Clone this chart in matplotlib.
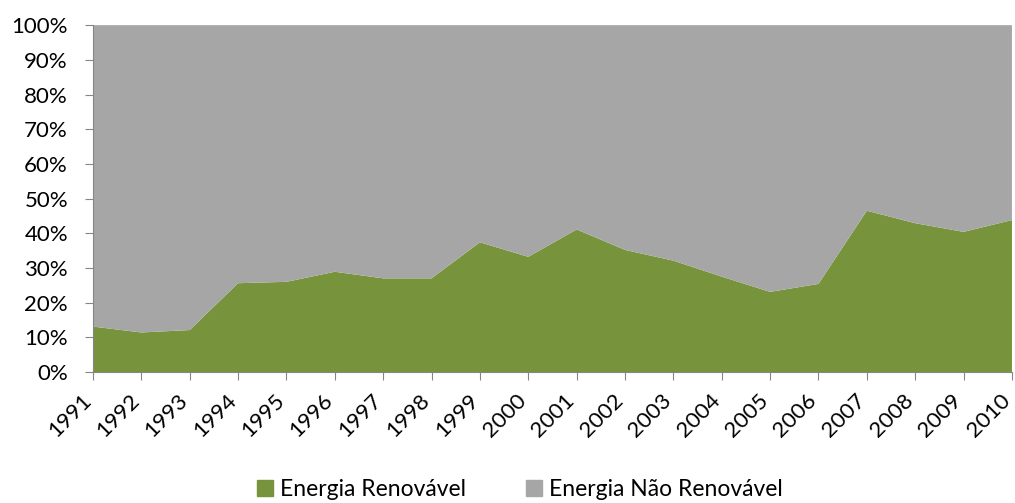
import numpy as np
import matplotlib
matplotlib.use("Agg")
import matplotlib.pyplot as plt
import matplotlib.transforms as mtransforms
from matplotlib.patches import Patch
from matplotlib.ticker import PercentFormatter

plt.rcParams["font.family"] = ["Lato", "DejaVu Sans"]

years = list(range(1991, 2011))
renovavel = [13.1, 11.4, 12.1, 25.6, 26.0, 28.9, 27.0, 27.0, 37.4, 33.2,
             41.1, 35.2, 32.1, 27.5, 23.1, 25.4, 46.5, 42.9, 40.4, 43.8]
nao_renovavel = [100 - v for v in renovavel]

green = "#77933C"
gray = "#A6A6A6"
axis_color = "#868686"

fig = plt.figure(figsize=(10.15, 5.03), dpi=100)
ax = fig.add_axes([0.0916, 0.2604, 0.9054, 0.6896])

ax.stackplot(years, renovavel, nao_renovavel, colors=[green, gray], linewidth=0)

ax.set_xlim(years[0], years[-1])
ax.set_ylim(0, 100)
ax.set_yticks(np.arange(0, 101, 10))
ax.yaxis.set_major_formatter(PercentFormatter(decimals=0))
ax.set_xticks(years)
ax.set_xticklabels([str(y) for y in years], rotation=45, ha="right",
                   va="center", rotation_mode="anchor")

for s in ["top", "right"]:
    ax.spines[s].set_visible(False)
for s in ["left", "bottom"]:
    ax.spines[s].set_color(axis_color)
ax.tick_params(axis="both", colors=axis_color, labelcolor="black",
               labelsize=16, length=6)
ax.tick_params(axis="y", pad=12)
ax.tick_params(axis="x", pad=12)

# nudge x labels so their ends sit under the ticks
shift = mtransforms.ScaledTranslation(-5 / 100, 0, fig.dpi_scale_trans)
for lbl in ax.get_xticklabels():
    lbl.set_transform(lbl.get_transform() + shift)

handles = [Patch(color=green, label="Energia Renovável"),
           Patch(color=gray, label="Energia Não Renovável")]
fig.legend(handles=handles, loc="lower center", bbox_to_anchor=(0.512, -0.035),
           ncol=2, frameon=False, fontsize=16.5, handlelength=0.7,
           handleheight=0.7, handletextpad=0.3, columnspacing=2.6)

fig.savefig("out.png")
